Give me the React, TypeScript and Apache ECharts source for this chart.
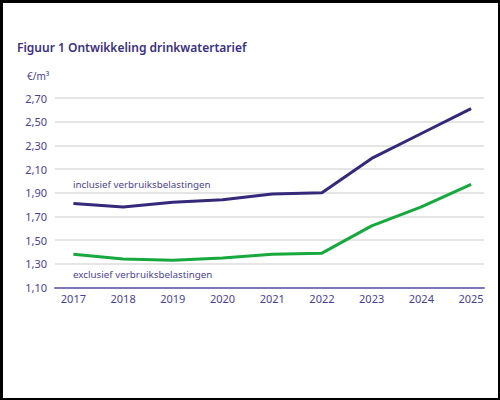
import React, { useEffect, useRef } from 'react';
import * as echarts from 'echarts';

// jaartallen en tarieven (€/m³)
const years = [2017, 2018, 2019, 2020, 2021, 2022, 2023, 2024, 2025];
const inclusief = [1.81, 1.78, 1.82, 1.84, 1.89, 1.9, 2.19, 2.4, 2.61];
const exclusief = [1.38, 1.34, 1.33, 1.35, 1.38, 1.39, 1.62, 1.78, 1.97];
const yTicks = { min: 1.1, max: 2.7, step: 0.2 };

const FONT = '"Noto Sans", sans-serif';
const PURPLE = '#34297a';
const LABEL = '#4a3f96';

const App: React.FC = () => {
  const chartRef = useRef<HTMLDivElement>(null);

  useEffect(() => {
    if (!chartRef.current) return;
    const chart = echarts.init(chartRef.current, null, { renderer: 'svg' });

    chart.setOption({
      animation: false,
      backgroundColor: '#ffffff',
      textStyle: { fontFamily: FONT },
      title: {
        text: 'Figuur 1 Ontwikkeling drinkwatertarief',
        left: 12,
        top: 36,
        textStyle: { color: '#3b2f82', fontSize: 12, fontWeight: 600, fontFamily: FONT }
      },
      grid: { left: 55, right: 16, top: 98, bottom: 112.5 },
      xAxis: {
        type: 'value',
        min: 2016.63,
        max: 2025.26,
        minInterval: 1,
        maxInterval: 1,
        axisLine: { show: true, onZero: false, lineStyle: { color: '#7d76b8', width: 2 } },
        axisTick: { show: false },
        splitLine: { show: false },
        axisLabel: {
          showMinLabel: false,
          showMaxLabel: false,
          color: LABEL,
          fontSize: 11,
          margin: 5,
          formatter: (v: number) => (Number.isInteger(v) ? String(v) : '')
        }
      },
      yAxis: {
        type: 'value',
        min: yTicks.min,
        max: yTicks.max,
        interval: yTicks.step,
        axisLine: { show: false },
        axisTick: { show: false },
        splitLine: { lineStyle: { color: '#dcdcdc', width: 1.5 } },
        axisLabel: {
          color: LABEL,
          fontSize: 11,
          margin: 8,
          formatter: (v: number) => v.toFixed(2).replace('.', ',')
        }
      },
      graphic: [
        {
          type: 'text',
          left: 27,
          top: 71,
          style: { text: '€/m³', fill: LABEL, fontSize: 10, fontFamily: FONT }
        },
        {
          type: 'text',
          left: 73,
          top: 179,
          style: { text: 'inclusief verbruiksbelastingen', fill: '#4d4590', fontSize: 9.8, fontFamily: FONT }
        },
        {
          type: 'text',
          left: 73,
          top: 269,
          style: { text: 'exclusief verbruiksbelastingen', fill: '#4d4590', fontSize: 9.8, fontFamily: FONT }
        }
      ],
      series: [
        {
          name: 'inclusief verbruiksbelastingen',
          type: 'line',
          data: years.map((y, i) => [y, inclusief[i]]),
          showSymbol: false,
          lineStyle: { color: PURPLE, width: 3 },
          itemStyle: { color: PURPLE }
        },
        {
          name: 'exclusief verbruiksbelastingen',
          type: 'line',
          data: years.map((y, i) => [y, exclusief[i]]),
          showSymbol: false,
          lineStyle: { color: '#17a83e', width: 3 },
          itemStyle: { color: '#17a83e' }
        }
      ]
    });

    return () => {
      chart.dispose();
    };
  }, []);

  return (
    <div style={{ position: 'absolute', top: 0, left: 0, width: 500, height: 400 }}>
      <div ref={chartRef} style={{ position: 'absolute', top: 0, left: 0, width: 500, height: 400 }} />
      <div
        style={{
          position: 'absolute',
          inset: 0,
          boxSizing: 'border-box',
          borderStyle: 'solid',
          borderColor: '#000',
          borderWidth: '3px 2px 2px 3px',
          pointerEvents: 'none'
        }}
      />
    </div>
  );
};

export default App;
